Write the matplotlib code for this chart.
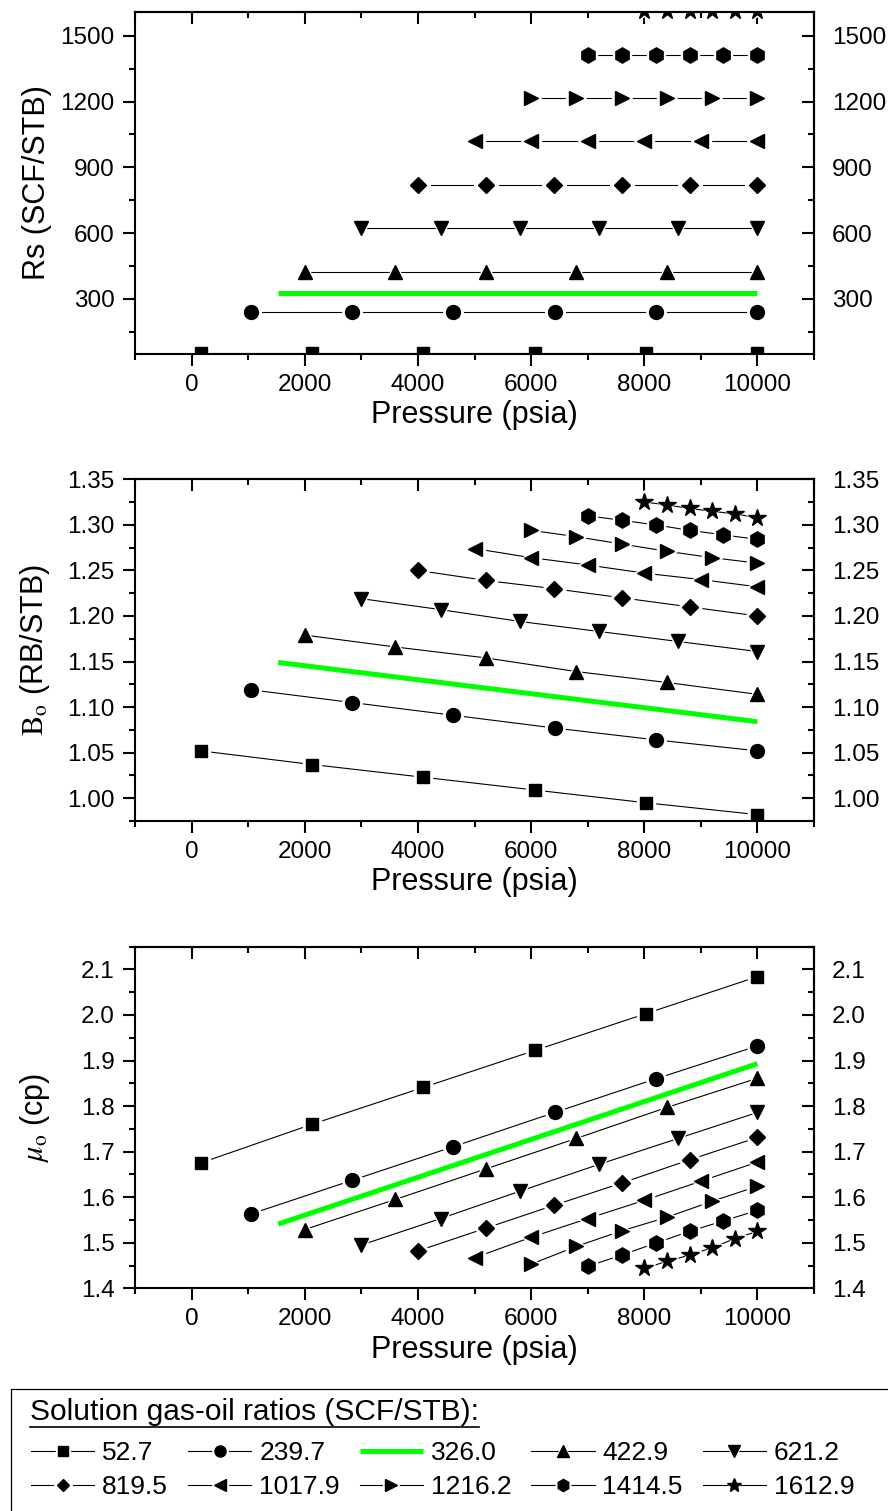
import matplotlib
matplotlib.use('Agg')
import matplotlib.pyplot as plt
from matplotlib.ticker import MultipleLocator, FormatStrFormatter
from matplotlib.legend_handler import HandlerTuple
from matplotlib.patches import Rectangle
from matplotlib.lines import Line2D

plt.rcParams['font.family'] = ['Liberation Sans', 'DejaVu Sans']
plt.rcParams['mathtext.fontset'] = 'stix'

# Solution gas-oil ratios (SCF/STB), one curve each
rs_labels = ['52.7', '239.7', '326.0', '422.9', '621.2',
             '819.5', '1017.9', '1216.2', '1414.5', '1612.9']
rs_values = [52.7, 239.7, 326.0, 422.9, 621.2,
             819.5, 1017.9, 1216.2, 1414.5, 1612.9]

# Pressures (psia) of the points of each curve
p_527 = [160, 2128, 4096, 6064, 8032, 10000]
p_2397 = [1046, 2837, 4628, 6418, 8209, 10000]
p_3260 = [1530, 10000]
p_4229 = [2000, 3600, 5200, 6800, 8400, 10000]
p_6212 = [3000, 4400, 5800, 7200, 8600, 10000]
p_8195 = [4000, 5200, 6400, 7600, 8800, 10000]
p_10179 = [5000, 6000, 7000, 8000, 9000, 10000]
p_12162 = [6000, 6800, 7600, 8400, 9200, 10000]
p_14145 = [7000, 7600, 8200, 8800, 9400, 10000]
p_16129 = [8000, 8400, 8800, 9200, 9600, 10000]

# Oil formation volume factor Bo (RB/STB)
bo_527 = [1.052, 1.037, 1.023, 1.009, 0.995, 0.982]
bo_2397 = [1.119, 1.105, 1.091, 1.077, 1.064, 1.052]
bo_3260 = [1.149, 1.084]
bo_4229 = [1.179, 1.166, 1.154, 1.139, 1.127, 1.114]
bo_6212 = [1.219, 1.207, 1.194, 1.183, 1.172, 1.161]
bo_8195 = [1.250, 1.239, 1.230, 1.220, 1.210, 1.200]
bo_10179 = [1.274, 1.264, 1.256, 1.247, 1.240, 1.232]
bo_12162 = [1.294, 1.287, 1.279, 1.271, 1.264, 1.258]
bo_14145 = [1.310, 1.305, 1.300, 1.294, 1.289, 1.284]
bo_16129 = [1.325, 1.322, 1.318, 1.315, 1.312, 1.308]

# Oil viscosity mu_o (cp)
mu_527 = [1.675, 1.760, 1.841, 1.922, 2.003, 2.084]
mu_2397 = [1.563, 1.637, 1.711, 1.786, 1.860, 1.932]
mu_3260 = [1.541, 1.893]
mu_4229 = [1.529, 1.595, 1.662, 1.729, 1.797, 1.861]
mu_6212 = [1.495, 1.553, 1.613, 1.672, 1.729, 1.786]
mu_8195 = [1.482, 1.532, 1.582, 1.631, 1.682, 1.731]
mu_10179 = [1.467, 1.512, 1.553, 1.593, 1.635, 1.677]
mu_12162 = [1.453, 1.492, 1.526, 1.556, 1.591, 1.624]
mu_14145 = [1.448, 1.473, 1.499, 1.525, 1.548, 1.571]
mu_16129 = [1.444, 1.459, 1.473, 1.489, 1.509, 1.525]

pressures = [p_527, p_2397, p_3260, p_4229, p_6212,
             p_8195, p_10179, p_12162, p_14145, p_16129]
bo_data = [bo_527, bo_2397, bo_3260, bo_4229, bo_6212,
           bo_8195, bo_10179, bo_12162, bo_14145, bo_16129]
mu_data = [mu_527, mu_2397, mu_3260, mu_4229, mu_6212,
           mu_8195, mu_10179, mu_12162, mu_14145, mu_16129]

markers = ['s', 'o', None, '^', 'v', 'D', '<', '>', 'h', '*']
sizes = [9, 10, 0, 10.5, 10.5, 8, 10.5, 10.5, 11, 13]

fig = plt.figure(figsize=(8.88, 15.11), dpi=100)
left, width = 135 / 888, (814 - 135) / 888
ax_rs = fig.add_axes([left, 1 - 354 / 1511, width, (354 - 11.7) / 1511])
ax_bo = fig.add_axes([left, 1 - 821 / 1511, width, (821 - 479.3) / 1511])
ax_mu = fig.add_axes([left, 1 - 1288.3 / 1511, width, (1288.3 - 946.6) / 1511])


def draw_series(ax, p, y, marker, ms):
    # green curve has no symbols
    if marker is None:
        line, = ax.plot(p, y, color='#00ff00', lw=3.6, solid_capstyle='butt')
        return line
    line, = ax.plot(p, y, color='k', lw=0.8)
    # white halo leaves a small gap between line and symbol
    halo, = ax.plot(p, y, ls='none', marker=marker, ms=ms + 4,
                    color='white', mec='white')
    mark, = ax.plot(p, y, ls='none', marker=marker, ms=ms,
                    color='k', mec='k')
    return (line, halo, mark)


def setup_axes(ax, ylim, ymajor, yminor, fmt, ylabel):
    ax.set_xlim(-1000, 11000)
    ax.set_ylim(*ylim)
    ax.xaxis.set_major_locator(MultipleLocator(2000))
    ax.xaxis.set_minor_locator(MultipleLocator(1000))
    ax.yaxis.set_major_locator(MultipleLocator(ymajor))
    ax.yaxis.set_minor_locator(MultipleLocator(yminor))
    if fmt:
        ax.yaxis.set_major_formatter(FormatStrFormatter(fmt))
    ax.tick_params(which='both', direction='out', width=1.5,
                   labelsize=17.5, top=False, right=False, pad=6)
    ax.tick_params(which='major', length=8.5)
    ax.tick_params(which='minor', length=4.3)
    for s in ax.spines.values():
        s.set_linewidth(1.5)

    top = ax.secondary_xaxis('top')
    top.xaxis.set_major_locator(MultipleLocator(2000))
    top.xaxis.set_minor_locator(MultipleLocator(1000))
    top.tick_params(which='both', direction='in', width=1.5, labeltop=False)
    top.tick_params(which='major', length=8.5)
    top.tick_params(which='minor', length=4.3)
    top.spines['top'].set_linewidth(1.5)

    right = ax.secondary_yaxis('right')
    right.yaxis.set_major_locator(MultipleLocator(ymajor))
    right.yaxis.set_minor_locator(MultipleLocator(yminor))
    if fmt:
        right.yaxis.set_major_formatter(FormatStrFormatter(fmt))
    right.tick_params(which='both', direction='in', width=1.5,
                      labelsize=17.5, pad=13)
    right.tick_params(which='major', length=8.5)
    right.tick_params(which='minor', length=4.3)
    right.spines['right'].set_linewidth(1.5)

    ax.set_xlabel('Pressure (psia)', fontsize=22, labelpad=3)
    ax.set_ylabel(ylabel, fontsize=22)
    ax.yaxis.set_label_coords(-0.122, 0.5)


handles = []
for i in range(len(rs_values)):
    draw_series(ax_rs, pressures[i], [rs_values[i]] * len(pressures[i]),
                markers[i], sizes[i])
    draw_series(ax_bo, pressures[i], bo_data[i], markers[i], sizes[i])
    h = draw_series(ax_mu, pressures[i], mu_data[i], markers[i], sizes[i])
    handles.append(h)

setup_axes(ax_rs, (48, 1610), 300, 150, None, 'Rs (SCF/STB)')
setup_axes(ax_bo, (0.975, 1.35), 0.05, 0.025, '%.2f',
           r'$\mathrm{B_o}$ (RB/STB)')
setup_axes(ax_mu, (1.4, 2.15), 0.1, 0.05, '%.1f', r'$\mu_\mathrm{o}$ (cp)')

# Legend box at the bottom
fig.patches.append(Rectangle((11 / 888, -0.01), 1.0, 0.01 + (1511 - 1389) / 1511,
                             transform=fig.transFigure, fill=False,
                             edgecolor='k', lw=0.9))
title = fig.text(30 / 888, 1 - 1420 / 1511, 'Solution gas-oil ratios (SCF/STB):',
                 fontsize=21.5, va='baseline', ha='left')

# matplotlib fills legend columns first, so reorder to fill by rows
order = [0, 5, 1, 6, 2, 7, 3, 8, 4, 9]
leg = fig.legend([handles[k] for k in order], [rs_labels[k] for k in order],
                 ncol=5, loc='upper left',
                 bbox_to_anchor=(31 / 888, 1 - 1441 / 1511),
                 frameon=False, fontsize=19, borderpad=0, borderaxespad=0,
                 handlelength=2.4, handletextpad=0.3, columnspacing=0.75,
                 labelspacing=0.38, markerscale=0.8,
                 handler_map={tuple: HandlerTuple(ndivide=1)})

# underline the legend title
fig.canvas.draw()
bb = title.get_window_extent().transformed(fig.transFigure.inverted())
uy = 1 - 1427 / 1511
fig.lines.append(Line2D([bb.x0, bb.x1], [uy, uy], transform=fig.transFigure,
                        color='k', lw=1.2))

fig.savefig('out.png', dpi=100)
